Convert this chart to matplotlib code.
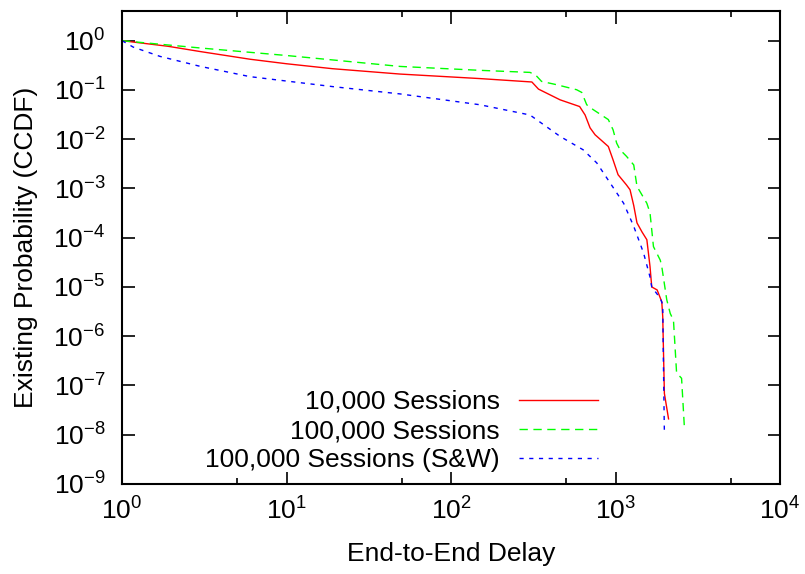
import numpy as np
from matplotlib import pyplot as plt
from matplotlib import ticker

plt.rcParams['font.family'] = ['Liberation Sans', 'DejaVu Sans']
plt.rcParams['mathtext.fontset'] = 'custom'
plt.rcParams['mathtext.rm'] = 'Liberation Sans'
plt.rcParams['mathtext.it'] = 'Liberation Sans'
plt.rcParams['mathtext.default'] = 'regular'

# CCDF of end-to-end delay
red_x = [1, 1.9, 3.0, 6.0, 10, 19, 49, 150, 310, 340, 460, 605, 653, 700, 751, 904,
         966, 1036, 1165, 1225, 1290, 1350, 1450, 1550, 1620, 1660, 1790, 1910, 1936, 1981, 2100]
red_y = [1, 0.77, 0.60, 0.42, 0.34, 0.27, 0.21, 0.17, 0.145, 0.104, 0.063, 0.046, 0.031, 0.017, 0.0123,
         0.0071, 0.0038, 0.0019, 0.00118, 9.4e-4, 4.5e-4, 2.0e-4, 1.3e-4, 9.1e-5, 2.6e-5, 1.0e-5, 8.7e-6,
         5.0e-6, 2.5e-6, 6.9e-8, 2.1e-8]

green_x = [1, 3.0, 10, 49, 150, 302, 327, 355, 437, 580, 623, 668, 730, 904, 966, 1016, 1065, 1165,
           1290, 1350, 1550, 1620, 1700, 1870, 1910, 2048, 2150, 2250, 2350, 2520, 2620]
green_y = [1, 0.71, 0.50, 0.30, 0.25, 0.227, 0.20, 0.149, 0.128, 0.101, 0.089, 0.050, 0.040, 0.025,
           0.0155, 0.0083, 0.0061, 0.0045, 0.0030, 0.0011, 5.0e-4, 3.2e-4, 6.6e-5, 3.5e-5, 2.6e-5,
           5.5e-6, 2.9e-6, 2.1e-6, 1.8e-7, 1.4e-7, 1.45e-8]

blue_x = [1, 1.17, 1.7, 3.0, 6.0, 19, 49, 150, 302, 460, 635, 769, 926, 1120, 1290, 1480, 1620,
          1660, 1870, 1936, 1950, 1981]
blue_y = [1, 0.74, 0.48, 0.30, 0.186, 0.117, 0.083, 0.050, 0.031, 0.0114, 0.0061, 0.0033, 0.0013,
          5.0e-4, 1.7e-4, 4.9e-5, 1.6e-5, 1.0e-5, 5.9e-6, 4.4e-6, 5.2e-7, 1.07e-8]

labels = ['10,000 Sessions', '100,000 Sessions', '100,000 Sessions (S&W)']

fig = plt.figure(figsize=(8.05, 5.74), dpi=100)
ax = fig.add_axes([0.1516, 0.1568, 0.8174, 0.8240])

ax.plot(red_x, red_y, color='#ff0000', lw=1.0, label=labels[0])
ax.plot(green_x, green_y, color='#00ff00', lw=1.0, dashes=(6, 4), label=labels[1])
ax.plot(blue_x, blue_y, color='#0000ff', lw=1.0, dashes=(3, 4), label=labels[2])

ax.set_xscale('log')
ax.set_yscale('log')
ax.set_xlim(1, 1e4)
ax.set_ylim(1e-9, 4)

xt = [10.0**e for e in range(0, 5)]
yt = [10.0**e for e in range(-9, 1)]
ax.xaxis.set_major_locator(ticker.FixedLocator(xt))
ax.yaxis.set_major_locator(ticker.FixedLocator(yt))
ax.xaxis.set_major_formatter(ticker.FixedFormatter(['10$^{%d}$' % e for e in range(0, 5)]))
ax.yaxis.set_major_formatter(ticker.FixedFormatter(['10$^{%d}$' % e for e in range(-9, 1)]))
ax.xaxis.set_minor_locator(ticker.LogLocator(base=10, subs=[5.0]))
ax.yaxis.set_minor_locator(ticker.LogLocator(base=10, subs=[5.0]))
ax.xaxis.set_minor_formatter(ticker.NullFormatter())
ax.yaxis.set_minor_formatter(ticker.NullFormatter())

ax.tick_params(which='both', direction='in', top=True, right=True, labelsize=19, width=1.2)
ax.tick_params(which='major', length=9)
ax.tick_params(which='minor', length=4.5)
ax.tick_params(axis='x', pad=10)
ax.tick_params(axis='y', pad=12)
for s in ax.spines.values():
    s.set_linewidth(1.5)

ax.set_xlabel('End-to-End Delay', fontsize=19, labelpad=12)
ax.set_ylabel('Existing Probability (CCDF)', fontsize=19, labelpad=11)

ax.legend(loc='center right', bbox_to_anchor=(0.7234, 0.112), frameon=False, markerfirst=False,
          fontsize=19, handlelength=3.0, handletextpad=0.72, labelspacing=0.2,
          borderpad=0, borderaxespad=0)

fig.savefig('out.png', dpi=100)
